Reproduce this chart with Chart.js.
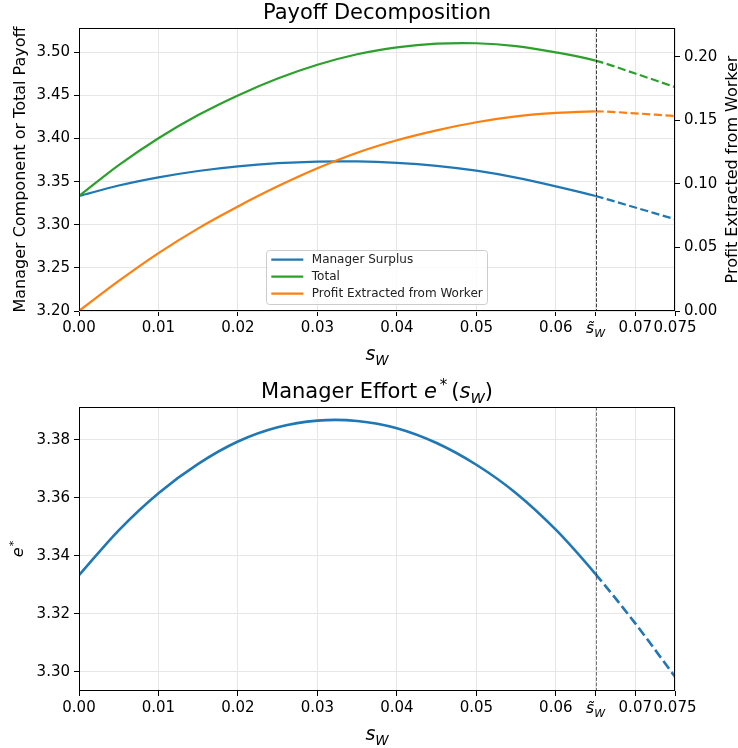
<!DOCTYPE html>
<html>
<head>
<meta charset="utf-8">
<script src="https://cdn.jsdelivr.net/npm/chart.js@4.4.1/dist/chart.umd.min.js"></script>
<style>
  html, body { margin: 0; padding: 0; background: #fff; }
  #wrap { position: relative; width: 738px; height: 748px; }
  canvas { position: absolute; left: 0; }
  #payoff { top: 0; }
  #effort { top: 370px; }
</style>
</head>
<body>
<div id="wrap">
  <canvas id="payoff" width="738" height="370"></canvas>
  <canvas id="effort" width="738" height="378"></canvas>
</div>
<script>
const sW = [0.000, 0.005, 0.010, 0.015, 0.020, 0.025, 0.030, 0.035,
            0.040, 0.045, 0.050, 0.055, 0.060, 0.065, 0.070, 0.075];
const managerSurplus = [3.3333, 3.3455, 3.3550, 3.3624, 3.3678, 3.3714, 3.3733, 3.3735,
                        3.3718, 3.3683, 3.3627, 3.3547, 3.3446, 3.3334, 3.3200, 3.3064];
const totalPayoff = [3.3333, 3.3692, 3.4004, 3.4272, 3.4500, 3.4696, 3.4856, 3.4978,
                     3.5057, 3.5100, 3.5105, 3.5072, 3.5000, 3.4904, 3.4754, 3.4597];
const profitExtracted = [0.0000, 0.0236, 0.0455, 0.0650, 0.0822, 0.0980, 0.1122, 0.1244,
                         0.1342, 0.1420, 0.1484, 0.1530, 0.1557, 0.1570, 0.1554, 0.1533];
const effort = [3.3333, 3.3488, 3.3616, 3.3717, 3.3794, 3.3843, 3.3866, 3.3865,
                3.3840, 3.3789, 3.3714, 3.3616, 3.3490, 3.3337, 3.3167, 3.2983];
const sTilde = 0.065;

const xTicks = [0, 0.01, 0.02, 0.03, 0.04, 0.05, 0.06, 0.065, 0.07, 0.075];
const xTickLabels = ['0.00', '0.01', '0.02', '0.03', '0.04', '0.05', '0.06', '', '0.07', '0.075'];
const leftTicks = [3.20, 3.25, 3.30, 3.35, 3.40, 3.45, 3.50];
const rightTicks = [0.00, 0.05, 0.10, 0.15, 0.20];
const effortTicks = [3.30, 3.32, 3.34, 3.36, 3.38];

const BLUE = '#1f77b4', ORANGE = '#ff7f0e', GREEN = '#2ca02c';
const GRID = '#e6e6e6';
const FAMILY = "'DejaVu Sans', sans-serif";
Chart.defaults.font.family = FAMILY;
Chart.defaults.color = '#000';

function fontOf(p) {
  return (p.italic ? 'oblique ' : '') + p.size + 'px ' + FAMILY;
}

// draws a run of text pieces (math-like) centred on x, baseline y
function drawRich(ctx, parts, x, y, rot) {
  ctx.save();
  ctx.translate(x, y);
  if (rot) ctx.rotate(rot);
  let w = 0;
  parts.forEach(p => { ctx.font = fontOf(p); p.w = ctx.measureText(p.t).width + (p.gap || 0); w += p.w; });
  let cx = -w / 2;
  ctx.textAlign = 'left';
  ctx.textBaseline = 'alphabetic';
  ctx.fillStyle = '#000';
  parts.forEach(p => {
    ctx.font = fontOf(p);
    ctx.fillText(p.t, cx, p.dy || 0);
    cx += p.w;
  });
  ctx.restore();
}

function lineDs(label, ys, color, width, axis, order) {
  return {
    label: label,
    data: sW.map((x, i) => ({ x: x, y: ys[i] })),
    borderColor: color,
    backgroundColor: color,
    borderWidth: width,
    pointRadius: 0,
    tension: 0.33,
    yAxisID: axis,
    order: order,
    segment: {
      borderDash: c => c.p0.parsed.x >= sTilde - 1e-9 ? [width * 3.7, width * 1.6] : undefined,
    },
  };
}

function xScale(height) {
  return {
    type: 'linear', min: 0, max: 0.075,
    afterBuildTicks: s => { s.ticks = xTicks.map(v => ({ value: v })); },
    afterFit: s => { s.height = height; },
    ticks: {
      autoSkip: false, maxRotation: 0, minRotation: 0, padding: 3,
      font: { size: 15 },
      callback: (v, i) => xTickLabels[i],
    },
    grid: { color: GRID, lineWidth: 1, tickColor: '#000', tickLength: 5, tickWidth: 1 },
    border: { display: false },
  };
}

// frame, s-tilde marker line and the math labels
function decorPlugin(opts) {
  return {
    id: 'decor',
    afterDatasetsDraw(chart) {
      const { ctx, chartArea: a, scales } = chart;
      const xs = scales.x.getPixelForValue(sTilde);
      ctx.save();
      ctx.strokeStyle = opts.vColor;
      ctx.lineWidth = 1;
      ctx.setLineDash([3.7, 1.6]);
      ctx.beginPath();
      ctx.moveTo(Math.round(xs) + 0.5, a.top);
      ctx.lineTo(Math.round(xs) + 0.5, a.bottom);
      ctx.stroke();
      ctx.setLineDash([]);
      ctx.strokeStyle = '#000';
      ctx.strokeRect(Math.round(a.left) + 0.5, Math.round(a.top) + 0.5,
                     Math.round(a.right - a.left) - 1, Math.round(a.bottom - a.top) - 1);
      ctx.restore();
    },
    afterDraw(chart) {
      const { ctx, chartArea: a, scales } = chart;
      const cx = (a.left + a.right) / 2;
      const xs = scales.x.getPixelForValue(sTilde);
      // s-tilde tick label
      drawRich(ctx, [
        { t: 's\u0303', size: 15.5, italic: true },
        { t: 'W', size: 11, italic: true, dy: 3.5 },
      ], xs, a.bottom + 22);
      // x axis label
      drawRich(ctx, [
        { t: 's', size: 19, italic: true },
        { t: 'W', size: 13.5, italic: true, dy: 4.5 },
      ], cx, a.bottom + 49);
      // title
      drawRich(ctx, opts.title, cx, a.top - 9);
      opts.extra(ctx, a);
    },
  };
}

function legendPlugin() {
  return {
    id: 'boxLegend',
    afterDraw(chart) {
      const { ctx, chartArea: a } = chart;
      const sets = chart.data.datasets;
      const fs = 12, pad = 4.8, handle = 32, gap = 8.5, row = 17;
      ctx.save();
      ctx.font = fs + 'px ' + FAMILY;
      const tw = Math.max(...sets.map(d => ctx.measureText(d.label).width));
      const w = pad + handle + gap + tw + pad;
      const h = row * sets.length + 3;
      const x0 = (a.left + a.right) / 2 - w / 2;
      const y0 = a.bottom - 7 - h;
      ctx.beginPath();
      ctx.roundRect(Math.round(x0) + 0.5, Math.round(y0) + 0.5, Math.round(w), Math.round(h), 3);
      ctx.fillStyle = 'rgba(255,255,255,0.8)';
      ctx.fill();
      ctx.strokeStyle = '#cccccc';
      ctx.lineWidth = 1;
      ctx.stroke();
      ctx.textBaseline = 'middle';
      ctx.textAlign = 'left';
      sets.forEach((d, i) => {
        const yy = y0 + 9.7 + row * i;
        ctx.strokeStyle = d.borderColor;
        ctx.lineWidth = d.borderWidth;
        ctx.beginPath();
        ctx.moveTo(x0 + pad, yy);
        ctx.lineTo(x0 + pad + handle, yy);
        ctx.stroke();
        ctx.fillStyle = '#222';
        ctx.fillText(d.label, x0 + pad + handle + gap, yy + 0.5);
      });
      ctx.restore();
    },
  };
}

new Chart(document.getElementById('payoff'), {
  type: 'line',
  data: {
    datasets: [
      lineDs('Manager Surplus', managerSurplus, BLUE, 2.2, 'y', 3),
      lineDs('Total', totalPayoff, GREEN, 2.2, 'y', 2),
      lineDs('Profit Extracted from Worker', profitExtracted, ORANGE, 2.2, 'y1', 1),
    ],
  },
  options: {
    responsive: false,
    animation: false,
    events: [],
    layout: { padding: { top: 28, right: 0, bottom: 0, left: 0 } },
    plugins: { legend: { display: false }, tooltip: { enabled: false }, title: { display: false } },
    scales: {
      x: xScale(59),
      y: {
        type: 'linear', position: 'left', min: 3.20, max: 3.5282,
        afterBuildTicks: s => { s.ticks = leftTicks.map(v => ({ value: v })); },
        afterFit: s => { s.width = 79; },
        ticks: { padding: 4, font: { size: 15 }, callback: v => v.toFixed(2) },
        grid: { color: GRID, lineWidth: 1, tickColor: '#000', tickLength: 5, tickWidth: 1 },
        border: { display: false },
      },
      y1: {
        type: 'linear', position: 'right', min: 0, max: 0.2225,
        afterBuildTicks: s => { s.ticks = rightTicks.map(v => ({ value: v })); },
        afterFit: s => { s.width = 63; },
        ticks: { padding: 4, font: { size: 15 }, callback: v => v.toFixed(2) },
        grid: { drawOnChartArea: false, tickColor: '#000', tickLength: 5, tickWidth: 1 },
        border: { display: false },
      },
    },
  },
  plugins: [
    decorPlugin({
      vColor: 'rgba(0,0,0,0.75)',
      title: [{ t: 'Payoff Decomposition', size: 21 }],
      extra: (ctx, a) => {
        const cy = (a.top + a.bottom) / 2;
        drawRich(ctx, [{ t: 'Manager Component or Total Payoff', size: 16 }], 25, cy, -Math.PI / 2);
        drawRich(ctx, [{ t: 'Profit Extracted from Worker', size: 16 }], 737, cy, -Math.PI / 2);
      },
    }),
    legendPlugin(),
  ],
});

new Chart(document.getElementById('effort'), {
  type: 'line',
  data: {
    datasets: [lineDs('e*', effort, BLUE, 2.6, 'y', 1)],
  },
  options: {
    responsive: false,
    animation: false,
    events: [],
    layout: { padding: { top: 37, right: 63, bottom: 0, left: 0 } },
    plugins: { legend: { display: false }, tooltip: { enabled: false }, title: { display: false } },
    scales: {
      x: xScale(57),
      y: {
        type: 'linear', position: 'left', min: 3.2934, max: 3.3913,
        afterBuildTicks: s => { s.ticks = effortTicks.map(v => ({ value: v })); },
        afterFit: s => { s.width = 79; },
        ticks: { padding: 4, font: { size: 15 }, callback: v => v.toFixed(2) },
        grid: { color: GRID, lineWidth: 1, tickColor: '#000', tickLength: 5, tickWidth: 1 },
        border: { display: false },
      },
    },
  },
  plugins: [
    decorPlugin({
      vColor: 'rgba(0,0,0,0.55)',
      title: [
        { t: 'Manager Effort ', size: 21 },
        { t: 'e', size: 21, italic: true, gap: 3 },
        { t: '*', size: 15, dy: -8, gap: 4 },
        { t: '(', size: 21 },
        { t: 's', size: 21, italic: true },
        { t: 'W', size: 14.5, italic: true, dy: 4.5 },
        { t: ')', size: 21 },
      ],
      extra: (ctx, a) => {
        const cy = (a.top + a.bottom) / 2;
        drawRich(ctx, [
          { t: 'e', size: 16, italic: true, gap: 1 },
          { t: '*', size: 11, dy: -6 },
        ], 23, cy, -Math.PI / 2);
      },
    }),
  ],
});
</script>
</body>
</html>
